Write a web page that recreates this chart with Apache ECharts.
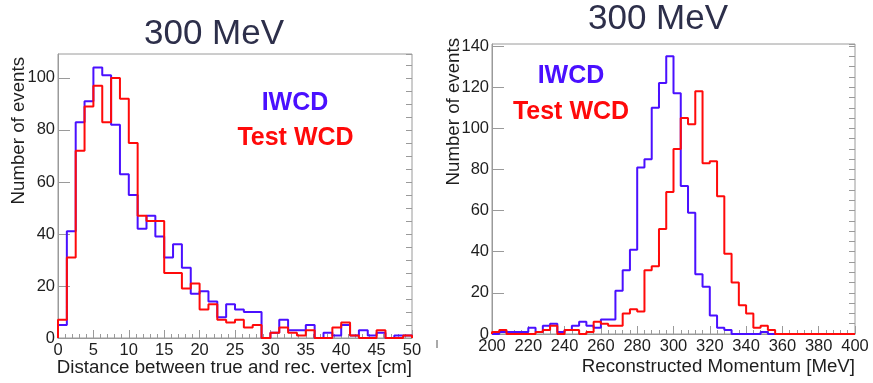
<!DOCTYPE html>
<html><head><meta charset="utf-8">
<script src="https://cdn.jsdelivr.net/npm/echarts@6/dist/echarts.min.js"></script>
<style>html,body{margin:0;padding:0;background:#fff}#c{width:873px;height:383px}</style>
</head><body><div id="c"></div>
<script>
// ---- Left panel: distance between true and reconstructed vertex (cm), 1.25 cm bins ----
const leftBinStart = 0;
const leftBinWidth = 1.25;
const leftIWCD = [5, 41, 83, 91, 104, 101, 82, 63, 55, 42, 47, 39, 31, 36, 27, 17, 18, 14, 8, 13,
                  11, 10, 10, 0, 2, 7, 3, 3, 5, 0, 2, 1, 5, 1, 3, 1, 2, 0, 1, 1];
const leftTest = [7, 31, 72, 89, 97, 83, 100, 92, 75, 47, 45, 45, 25, 25, 19, 21, 11, 13, 7, 6,
                  7, 4, 5, 0, 2, 4, 2, 1, 3, 0, 0, 4, 6, 1, 0, 0, 3, 0, 0, 1];
// ---- Right panel: reconstructed momentum (MeV), 4 MeV bins ----
const rightBinStart = 200;
const rightBinWidth = 4;
const rightIWCD = [0, 1, 1, 1, 1, 3, 1, 4, 5, 1, 2, 4, 6, 4, 3, 7, 7, 21, 31, 41,
                   81, 85, 110, 122, 135, 117, 72, 59, 29, 23, 9, 3, 2, 0, 0, 0, 0, 1, 0, 0,
                   0, 0, 0, 0, 0, 0, 0, 0, 0, 0];
const rightTest = [1, 2, 0, 0, 0, 0, 1, 2, 4, 0, 2, 2, 0, 1, 6, 5, 4, 4, 10, 12,
                   11, 31, 33, 51, 69, 90, 105, 102, 118, 83, 84, 67, 39, 25, 14, 10, 3, 4, 2, 0,
                   0, 0, 0, 0, 0, 0, 0, 0, 0, 0];
const titleText = '300 MeV';
const seriesNames = ['IWCD', 'Test WCD'];
const leftXTitle = 'Distance between true and rec. vertex [cm]';
const rightXTitle = 'Reconstructed Momentum [MeV]';
const yTitle = 'Number of events';

const BLUE = '#4a10ff', RED = '#ff0a0a', AX = '#9a9a9a', TXT = '#1e1e1e';
const FONT = '"Liberation Sans", Arial, Helvetica, sans-serif';

function histPoints(start, width, vals) {
  const pts = [[start, 0]];
  vals.forEach((v, i) => pts.push([start + i * width, v]));
  pts.push([start + vals.length * width, vals[vals.length - 1]]);
  pts.push([start + vals.length * width, 0]);
  return pts;
}

function xAxisCfg(grid, min, max, interval, minorSplit) {
  return {
    type: 'value', gridIndex: grid, min, max, interval,
    axisLine: {show: true, lineStyle: {color: AX, width: 1}},
    axisTick: {show: true, inside: true, length: 8, lineStyle: {color: AX, width: 1}},
    minorTick: {show: true, splitNumber: minorSplit, length: 4, lineStyle: {color: AX, width: 1}},
    axisLabel: {fontSize: 16.5, color: TXT, fontFamily: FONT, margin: 4},
    splitLine: {show: false}
  };
}
function yAxisMajor(grid, max) {
  return {
    type: 'value', gridIndex: grid, min: 0, max, interval: 20,
    axisLine: {show: true, lineStyle: {color: AX, width: 1}},
    axisTick: {show: true, inside: true, length: 12, lineStyle: {color: AX, width: 1}},
    axisLabel: {fontSize: 16.5, color: TXT, fontFamily: FONT, margin: 3, showMaxLabel: false},
    splitLine: {show: false}
  };
}
function yAxisMinor(grid, max) {
  return {
    type: 'value', gridIndex: grid, min: 0, max, interval: 5,
    axisLine: {show: false},
    axisTick: {show: true, inside: true, length: 6, lineStyle: {color: AX, width: 1}},
    axisLabel: {show: false},
    splitLine: {show: false}
  };
}
function histSeries(name, xi, yi, pts, color) {
  return {
    name, type: 'line', xAxisIndex: xi, yAxisIndex: yi, data: pts, step: 'end',
    symbol: 'none', lineStyle: {color, width: 2}, animation: false, z: name === seriesNames[1] ? 3 : 2
  };
}
function txt(x, y, text, font, fill, align, rot) {
  return {type: 'text', x, y, rotation: rot || 0,
    style: {text, font, fill, textAlign: align || 'center', textVerticalAlign: 'middle'}};
}

const chart = echarts.init(document.getElementById('c'), null, {renderer: 'canvas'});
chart.setOption({
  backgroundColor: '#ffffff',
  animation: false,
  grid: [
    {left: 58, top: 54, width: 354, height: 284, show: true, borderColor: AX, borderWidth: 1, backgroundColor: 'transparent'},
    {left: 492, top: 44, width: 363, height: 290, show: true, borderColor: AX, borderWidth: 1, backgroundColor: 'transparent'}
  ],
  xAxis: [
    xAxisCfg(0, 0, 50, 5, 5),
    xAxisCfg(1, 200, 400, 20, 5)
  ],
  yAxis: [
    yAxisMajor(0, 109.2), yAxisMinor(0, 109.2),
    yAxisMajor(1, 141), yAxisMinor(1, 141)
  ],
  series: [
    histSeries(seriesNames[0], 0, 0, histPoints(leftBinStart, leftBinWidth, leftIWCD), BLUE),
    histSeries(seriesNames[1], 0, 0, histPoints(leftBinStart, leftBinWidth, leftTest), RED),
    histSeries(seriesNames[0], 1, 2, histPoints(rightBinStart, rightBinWidth, rightIWCD), BLUE),
    histSeries(seriesNames[1], 1, 2, histPoints(rightBinStart, rightBinWidth, rightTest), RED)
  ],
  graphic: [
    txt(214, 34, titleText, '35px ' + FONT, '#2d2f4a'),
    txt(658, 19, titleText, '35px ' + FONT, '#2d2f4a'),
    txt(295, 103, seriesNames[0], 'bold 25px ' + FONT, BLUE),
    txt(295.5, 138, seriesNames[1], 'bold 25px ' + FONT, RED),
    txt(571, 76, seriesNames[0], 'bold 25px ' + FONT, BLUE),
    txt(571, 112, seriesNames[1], 'bold 25px ' + FONT, RED),
    txt(412, 368, leftXTitle, '18.7px ' + FONT, TXT, 'right'),
    txt(855, 367, rightXTitle, '18.7px ' + FONT, TXT, 'right'),
    txt(19, 57, yTitle, '18.7px ' + FONT, TXT, 'right', Math.PI / 2),
    txt(454, 38, yTitle, '18.7px ' + FONT, TXT, 'right', Math.PI / 2),
    {type: 'line', shape: {x1: 437, y1: 340, x2: 437, y2: 348}, style: {stroke: '#555', lineWidth: 1}}
  ]
});
</script>
</body></html>
